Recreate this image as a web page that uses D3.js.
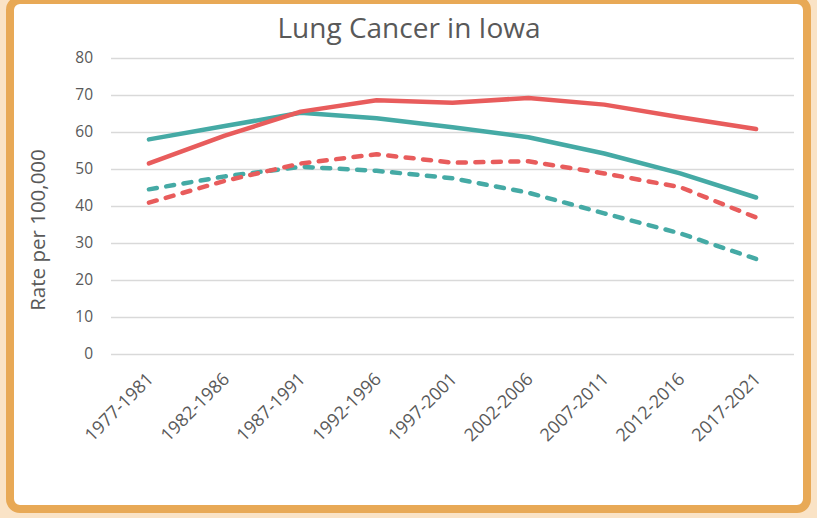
<!DOCTYPE html>
<html>
<head>
<meta charset="utf-8">
<title>Lung Cancer in Iowa</title>
<script src="https://d3js.org/d3.v7.min.js"></script>
<style>
  body { margin: 0; background: #fae3c6; }
  svg { display: block; }
</style>
</head>
<body>
<div id="chart"></div>
<script>
// data
var periods = ["1977-1981", "1982-1986", "1987-1991", "1992-1996", "1997-2001",
               "2002-2006", "2007-2011", "2012-2016", "2017-2021"];
var redSolid   = [51.5, 59.0, 65.5, 68.6, 67.9, 69.2, 67.4, 64.0, 60.8];
var tealSolid  = [58.0, 61.6, 65.2, 63.7, 61.3, 58.6, 54.2, 48.8, 42.3];
var redDashed  = [40.9, 46.8, 51.5, 54.0, 51.7, 52.1, 48.8, 45.1, 36.9];
var tealDashed = [44.5, 48.0, 50.6, 49.5, 47.5, 43.6, 38.0, 32.6, 25.7];
var yTicks = [0, 10, 20, 30, 40, 50, 60, 70, 80];

var width = 817, height = 518;
var plotLeft = 111, plotRight = 794, plotTop = 58, plotBottom = 354;
var font = "'Open Sans', sans-serif";

var svg = d3.select("#chart").append("svg")
    .attr("width", width)
    .attr("height", height);

// frame
svg.append("rect")
    .attr("x", 10).attr("y", 0)
    .attr("width", 797).attr("height", 509)
    .attr("rx", 10).attr("ry", 10)
    .attr("fill", "#ffffff")
    .attr("stroke", "#e8a956")
    .attr("stroke-width", 8);

svg.append("text")
    .attr("x", 409).attr("y", 38)
    .attr("text-anchor", "middle")
    .style("font-family", font)
    .style("font-size", "28px")
    .style("fill", "#595959")
    .text("Lung Cancer in Iowa");

var x = d3.scalePoint().domain(periods).range([plotLeft, plotRight]).padding(0.5);
var y = d3.scaleLinear().domain([0, 80]).range([plotBottom, plotTop]);

// gridlines + y labels
var yAxis = svg.append("g")
    .attr("transform", "translate(" + plotLeft + ",0)")
    .call(d3.axisLeft(y).tickValues(yTicks).tickSize(-(plotRight - plotLeft)).tickPadding(18));
yAxis.select(".domain").remove();
yAxis.selectAll(".tick line").attr("stroke", "#d9d9d9").attr("stroke-width", 1.5);
yAxis.selectAll(".tick text")
    .style("font-family", font)
    .style("font-size", "15.5px")
    .style("fill", "#595959");

// x labels, rotated
var xAxis = svg.append("g")
    .attr("transform", "translate(0," + plotBottom + ")")
    .call(d3.axisBottom(x).tickSize(0));
xAxis.select(".domain").remove();
xAxis.selectAll(".tick text")
    .style("font-family", font)
    .style("font-size", "18px")
    .style("fill", "#595959")
    .attr("text-anchor", "end")
    .attr("dy", 0)
    .attr("transform", "translate(3,24) rotate(-45)");

svg.append("text")
    .attr("transform", "translate(45,230) rotate(-90)")
    .attr("text-anchor", "middle")
    .style("font-family", font)
    .style("font-size", "20.5px")
    .style("fill", "#595959")
    .text("Rate per 100,000");

var line = d3.line()
    .x(function(d, i) { return x(periods[i]); })
    .y(function(d) { return y(d); });

var series = [
    { values: tealDashed, color: "#45aaa5", dash: "8,9.5" },
    { values: redDashed, color: "#e85c5c", dash: "8,9.5" },
    { values: tealSolid, color: "#45aaa5", dash: null },
    { values: redSolid, color: "#e85c5c", dash: null }
];

series.forEach(function(s) {
    svg.append("path")
        .datum(s.values)
        .attr("d", line)
        .attr("fill", "none")
        .attr("stroke", s.color)
        .attr("stroke-width", 4.5)
        .attr("stroke-linecap", "round")
        .attr("stroke-linejoin", "round")
        .attr("stroke-dasharray", s.dash);
});
</script>
</body>
</html>
